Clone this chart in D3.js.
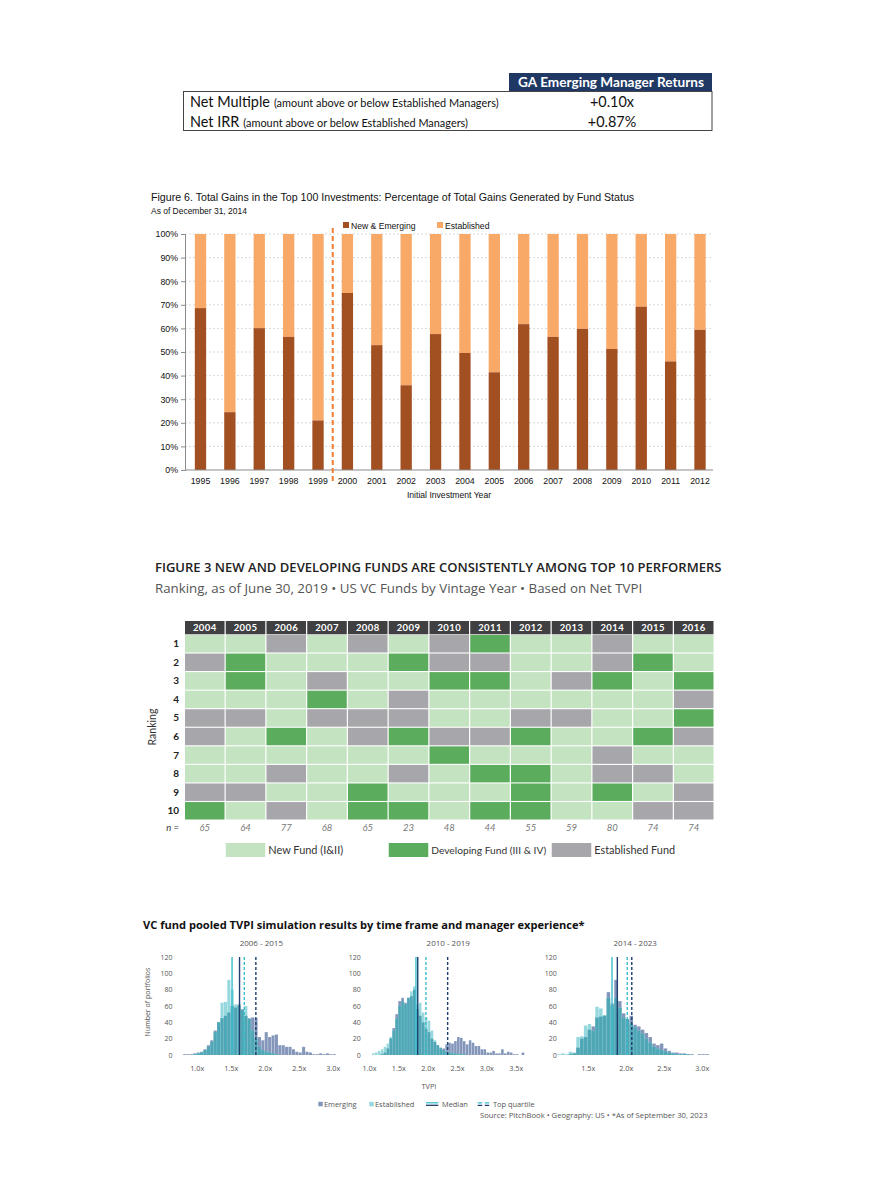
<!DOCTYPE html>
<html>
<head>
<meta charset="utf-8">
<script src="https://cdn.jsdelivr.net/npm/d3@7"></script>
<style>
body { margin: 0; background: #fff; }
</style>
</head>
<body>
<div id="container"></div>
<script>
// ---------- data ----------
// top table
var tableHeader = "GA Emerging Manager Returns";
var tableRows = ["Net Multiple", "Net IRR"];
var tableNotes = ["(amount above or below Established Managers)", "(amount above or below Established Managers)"];
var tableValues = ["+0.10x", "+0.87%"];

// figure 6
var years6 = ["1995","1996","1997","1998","1999","2000","2001","2002","2003","2004","2005","2006","2007","2008","2009","2010","2011","2012"];
var newEmerging = [68.6, 24.5, 60.1, 56.4, 21, 75, 52.9, 35.9, 57.6, 49.6, 41.4, 61.8, 56.4, 59.8, 51.3, 69.2, 46, 59.4];
var pctTicks = [0, 10, 20, 30, 40, 50, 60, 70, 80, 90, 100];
var legend6 = ["New & Emerging", "Established"];

// figure 3
var vintages = ["2004","2005","2006","2007","2008","2009","2010","2011","2012","2013","2014","2015","2016"];
var rankings = [1, 2, 3, 4, 5, 6, 7, 8, 9, 10];
var nCounts = [65, 64, 77, 68, 65, 23, 48, 44, 55, 59, 80, 74, 74];
// N = new fund, D = developing fund, E = established fund (one string per ranking row)
var rankGrid = [
  "NNENENEDNNENN",
  "EDNNNDEENNEDN",
  "NDNENNDDNEDND",
  "NNNDNENNNNNNE",
  "EENEEENNEENND",
  "ENDNEDEEDNNDE",
  "NNNNNNDNNNENN",
  "NNENNENDDNEEN",
  "EENNDNNNDNDNE",
  "DNENDDNDDNNEE"
];
var legend3 = ["New Fund (I&II)", "Developing Fund (III & IV)", "Established Fund"];

// TVPI histograms
var panelTitles = ["2006 - 2015", "2010 - 2019", "2014 - 2023"];
var binStarts = [0.80, 1.05, 1.10];
var emerging1 = [1,1,1,2,3,4,7,12,18,30,40,45,48,52,60,58,62,56,48,45,46,45,22,18,28,22,24,25,12,12,10,10,7,4,3,10,4,3,1,1,2,1,2,1,1];
var established1 = [0,0,0,1,2,3,6,10,16,28,40,64,65,92,80,62,60,55,60,44,30,20,10,6,4,3,2,1,0,0,0,0,0,0,0,0,0,0,0,0,0,0,0,0,0];
var emerging2 = [0,0,0,1,3,8,20,33,50,66,70,64,70,72,80,56,48,40,32,28,20,16,12,9,8,13,15,14,17,22,21,17,13,18,15,11,11,7,7,3,3,5,2,2,7,2,4,3,1,1,0,3];
var established2 = [2,3,5,7,10,14,22,30,45,60,66,62,70,78,84,62,64,52,46,42,30,18,12,8,6,4,3,2,2,1,1,1,0,0,0,0,0,0,0,0,0,0,0,0,0,0,0,0,0,0,0,0];
var emerging3 = [0,0,0,1,2,9,20,22,31,35,46,47,48,77,63,92,66,51,44,48,37,35,31,27,22,14,12,14,8,5,3,3,2,2,1,1,0,1,1,1,0];
var established3 = [1,2,1,4,3,22,23,36,38,30,59,57,49,70,60,70,58,46,44,39,34,30,26,20,15,10,8,6,4,3,2,1,1,1,1,0,0,0,0,0,0];
var emergingAll = [emerging1, emerging2, emerging3];
var establishedAll = [established1, established2, established3];
var medians = [[1.52, 1.63], [1.80, 1.83], [1.82, 1.89]];      // [established, emerging]
var topQuartiles = [[1.70, 1.87], [1.97, 2.34], [2.02, 2.08]];  // [established, emerging]
var xTicksAll = [[1.0, 1.5, 2.0, 2.5, 3.0], [1.0, 1.5, 2.0, 2.5, 3.0, 3.5], [1.5, 2.0, 2.5, 3.0]];
var xDomains = [[0.8, 3.1], [1.0, 3.7], [1.1, 3.15]];
var countTicks = [0, 20, 40, 60, 80, 100, 120];
var legendHist = ["Emerging", "Established", "Median", "Top quartile"];
var sourceText = "Source: PitchBook \u2022 Geography: US \u2022 *As of September 30, 2023";

// ---------- setup ----------
var W = 878, H = 1200;
var svg = d3.select("#container").append("svg")
  .attr("width", W).attr("height", H);
svg.append("rect").attr("width", W).attr("height", H).attr("fill", "#fff");

// scale a text's font-size so that it spans a given width
function fit(sel, w) {
  var len = sel.node().getComputedTextLength();
  var fs = parseFloat(sel.attr("font-size"));
  if (len > 0) sel.attr("font-size", fs * w / len);
  return sel;
}

// ---------- top table ----------
var tb = svg.append("g").attr("font-family", "Lato, 'Open Sans', sans-serif");
tb.append("rect").attr("x", 509).attr("y", 73).attr("width", 203).attr("height", 18).attr("fill", "#1f3864");
fit(tb.append("text").attr("x", 611).attr("y", 86.8).attr("text-anchor", "middle")
  .attr("fill", "#fff").attr("font-weight", "bold").attr("font-size", 12).text(tableHeader), 186);
tb.append("rect").attr("x", 183.5).attr("y", 91.5).attr("width", 528.5).attr("height", 39)
  .attr("fill", "none").attr("stroke", "#444").attr("stroke-width", 1);

var rowFs = 13, noteFs = 9;
tableRows.forEach(function(r, i) {
  var y = 107 + i * 19.5;
  var t1 = tb.append("text").attr("x", 190).attr("y", y).attr("font-size", rowFs).attr("fill", "#111").text(r);
  if (i == 0) { fit(t1, 80); rowFs = parseFloat(t1.attr("font-size")); }
  else t1.attr("font-size", rowFs);
  var bx = 190 + t1.node().getComputedTextLength() + 4;
  var t2 = tb.append("text").attr("x", bx).attr("y", y).attr("font-size", noteFs).attr("fill", "#111").text(tableNotes[i]);
  if (i == 0) { fit(t2, 225); noteFs = parseFloat(t2.attr("font-size")); }
  else t2.attr("font-size", noteFs);
  tb.append("text").attr("x", 612).attr("y", y).attr("text-anchor", "middle")
    .attr("font-size", rowFs).attr("fill", "#111").text(tableValues[i]);
});

// ---------- figure 6 ----------
var f6 = svg.append("g").attr("font-family", "'Liberation Sans', Arial, sans-serif").attr("fill", "#111");
fit(f6.append("text").attr("x", 151).attr("y", 201).attr("font-size", 10.5)
  .text("Figure 6. Total Gains in the Top 100 Investments: Percentage of Total Gains Generated by Fund Status"), 484);
fit(f6.append("text").attr("x", 151).attr("y", 213.5).attr("font-size", 8.3).text("As of December 31, 2014"), 96);

var c6Dark = "#a24f22", c6Light = "#f8a968";
var x6 = d3.scaleBand().domain(years6).range([185.8, 714.7]).paddingInner(0.615).paddingOuter(0.3075);
var y6 = d3.scaleLinear().domain([0, 100]).range([470, 234]);

// gridlines
f6.selectAll("line.grid").data(pctTicks.filter(function(d) { return d > 0; }))
  .enter().append("line")
  .attr("x1", 185).attr("x2", 713)
  .attr("y1", function(d) { return y6(d); }).attr("y2", function(d) { return y6(d); })
  .attr("stroke", "#cfcfcf").attr("stroke-width", 0.8).attr("stroke-dasharray", "2,2");

// stacked bars
f6.selectAll("rect.est").data(years6).enter().append("rect")
  .attr("x", function(d) { return x6(d); }).attr("width", x6.bandwidth())
  .attr("y", y6(100))
  .attr("height", function(d, i) { return y6(newEmerging[i]) - y6(100); })
  .attr("fill", c6Light);
f6.selectAll("rect.new").data(years6).enter().append("rect")
  .attr("x", function(d) { return x6(d); }).attr("width", x6.bandwidth())
  .attr("y", function(d, i) { return y6(newEmerging[i]); })
  .attr("height", function(d, i) { return y6(0) - y6(newEmerging[i]); })
  .attr("fill", c6Dark);

// axes
var ay6 = f6.append("g").attr("transform", "translate(185,0)")
  .call(d3.axisLeft(y6).tickValues(pctTicks).tickFormat(function(d) { return d + "%"; }).tickSize(4).tickPadding(3));
ay6.selectAll("text").attr("font-size", 8.8).attr("fill", "#111").attr("font-family", "'Liberation Sans', Arial, sans-serif");
ay6.selectAll("line,path").attr("stroke", "#8c8c8c");
var ax6 = f6.append("g").attr("transform", "translate(0,470)")
  .call(d3.axisBottom(x6).tickSize(0).tickPadding(8));
ax6.select("path").attr("d", "M185,0H713").attr("stroke", "#8c8c8c");
ax6.selectAll("text").attr("font-size", 8.8).attr("fill", "#111").attr("font-family", "'Liberation Sans', Arial, sans-serif");
f6.append("text").attr("x", 449).attr("y", 498).attr("text-anchor", "middle").attr("font-size", 8.6).text("Initial Investment Year");

// dashed separator between 1999 and 2000
var sepX = (x6("1999") + x6.bandwidth() + x6("2000")) / 2;
f6.append("line").attr("x1", sepX).attr("x2", sepX).attr("y1", 228).attr("y2", 483)
  .attr("stroke", "#ee7d31").attr("stroke-width", 2).attr("stroke-dasharray", "5,3");

// legend
[[343, c6Dark], [437, c6Light]].forEach(function(p, i) {
  f6.append("rect").attr("x", p[0]).attr("y", 222).attr("width", 6).attr("height", 6).attr("fill", p[1]);
  f6.append("text").attr("x", p[0] + 8).attr("y", 228.5).attr("font-size", 8.6).text(legend6[i]);
});

// ---------- figure 3 ----------
var f3 = svg.append("g").attr("font-family", "Lato, 'Open Sans', sans-serif");
fit(f3.append("text").attr("x", 155).attr("y", 572).attr("font-size", 11.5).attr("font-weight", 600)
  .attr("font-family", "'Open Sans', sans-serif").attr("fill", "#222")
  .text("FIGURE 3 NEW AND DEVELOPING FUNDS ARE CONSISTENTLY AMONG TOP 10 PERFORMERS"), 567);
fit(f3.append("text").attr("x", 155).attr("y", 592.5).attr("font-size", 11.5)
  .attr("font-family", "'Open Sans', sans-serif").attr("fill", "#555")
  .text("Ranking, as of June 30, 2019 \u2022 US VC Funds by Vintage Year \u2022 Based on Net TVPI"), 488);

var cellColor = { N: "#c3e3c1", D: "#5cac5e", E: "#a7a6ab" };
var x3 = d3.scaleBand().domain(vintages).range([185, 713.5]).paddingInner(0.03);
var y3 = d3.scaleBand().domain(rankings).range([635, 819.5]).paddingInner(0.06);

// header
f3.selectAll("rect.hdr").data(vintages).enter().append("rect")
  .attr("x", function(d) { return x3(d); }).attr("width", x3.bandwidth())
  .attr("y", 621).attr("height", 13.3).attr("fill", "#404042");
f3.selectAll("text.hdr").data(vintages).enter().append("text")
  .attr("x", function(d) { return x3(d) + x3.bandwidth() / 2; }).attr("y", 631.3)
  .attr("text-anchor", "middle").attr("font-size", 9.5).attr("font-weight", "bold")
  .attr("letter-spacing", 0.4).attr("fill", "#fff").text(function(d) { return d; });

// cells
rankGrid.forEach(function(row, r) {
  f3.selectAll("rect.r" + r).data(row.split("")).enter().append("rect")
    .attr("x", function(d, c) { return x3(vintages[c]); }).attr("width", x3.bandwidth())
    .attr("y", y3(rankings[r])).attr("height", y3.bandwidth())
    .attr("fill", function(d) { return cellColor[d]; });
});

// row labels
f3.selectAll("text.rank").data(rankings).enter().append("text")
  .attr("x", 179).attr("y", function(d) { return y3(d) + y3.bandwidth() / 2 + 3.5; })
  .attr("text-anchor", "end").attr("font-size", 10).attr("font-weight", "bold").attr("fill", "#222")
  .text(function(d) { return d; });
f3.append("text").attr("transform", "translate(156,727) rotate(-90)").attr("text-anchor", "middle")
  .attr("font-size", 10.5).attr("fill", "#333").text("Ranking");

// n row
f3.append("text").attr("x", 179).attr("y", 831).attr("text-anchor", "end").attr("font-size", 9.5)
  .attr("font-style", "italic").attr("fill", "#333").text("n =");
f3.selectAll("text.n").data(nCounts).enter().append("text")
  .attr("x", function(d, i) { return x3(vintages[i]) + x3.bandwidth() / 2; }).attr("y", 831)
  .attr("text-anchor", "middle").attr("font-size", 9.5).attr("font-style", "italic").attr("fill", "#777")
  .text(function(d) { return d; });

// legend
var legCols = [1, 5, 9], legKeys = ["N", "D", "E"], legW = [75, 115, 81];
legCols.forEach(function(c, i) {
  var lx = x3(vintages[c]);
  f3.append("rect").attr("x", lx).attr("y", 843).attr("width", x3.bandwidth()).attr("height", 14)
    .attr("fill", cellColor[legKeys[i]]);
  fit(f3.append("text").attr("x", lx + x3.bandwidth() + 3).attr("y", 854).attr("font-size", 10.5)
    .attr("fill", "#333").text(legend3[i]), legW[i]);
});

// ---------- TVPI histograms ----------
var fh = svg.append("g").attr("font-family", "'Open Sans', sans-serif");
fit(fh.append("text").attr("x", 143).attr("y", 929).attr("font-size", 10.5).attr("font-weight", "bold")
  .attr("fill", "#111")
  .text("VC fund pooled TVPI simulation results by time frame and manager experience*"), 442);

var emColor = "#8497bb", estColor = "#96d8de", bothColor = "#4fa7b6";
var navy = "#1e3f6f", cyan = "#3bbecb";
var panelRanges = [[183.1, 339.5], [369, 527.5], [557.3, 713.1]];
var yLabelX = [172.5, 360.8, 556.8];
var yh = d3.scaleLinear().domain([0, 120]).range([1055, 957]);
var binW = 0.05;

panelTitles.forEach(function(title, p) {
  var g = fh.append("g");
  var xh = d3.scaleLinear().domain(xDomains[p]).range(panelRanges[p]);
  var em = emergingAll[p], est = establishedAll[p];
  var bins = em.map(function(d, i) { return binStarts[p] + i * binW; });
  var bw = xh(binW) - xh(0) - 0.35;

  g.append("text").attr("x", (panelRanges[p][0] + panelRanges[p][1]) / 2).attr("y", 946)
    .attr("text-anchor", "middle").attr("font-size", 8).attr("fill", "#555").text(title);

  g.selectAll("rect.em").data(bins).enter().append("rect")
    .attr("x", function(d) { return xh(d); }).attr("width", bw)
    .attr("y", function(d, i) { return yh(em[i]); })
    .attr("height", function(d, i) { return yh(0) - yh(em[i]); })
    .attr("fill", emColor);
  g.selectAll("rect.est").data(bins).enter().append("rect")
    .attr("x", function(d) { return xh(d); }).attr("width", bw)
    .attr("y", function(d, i) { return yh(est[i]); })
    .attr("height", function(d, i) { return yh(0) - yh(est[i]); })
    .attr("fill", estColor);
  g.selectAll("rect.both").data(bins).enter().append("rect")
    .attr("x", function(d) { return xh(d); }).attr("width", bw)
    .attr("y", function(d, i) { return yh(Math.min(em[i], est[i])); })
    .attr("height", function(d, i) { return yh(0) - yh(Math.min(em[i], est[i])); })
    .attr("fill", bothColor);

  // median and top quartile lines
  var lines = [
    { v: medians[p][0], c: cyan, dash: null },
    { v: medians[p][1], c: navy, dash: null },
    { v: topQuartiles[p][0], c: cyan, dash: "3,2" },
    { v: topQuartiles[p][1], c: navy, dash: "3,2" }
  ];
  g.selectAll("line.stat").data(lines).enter().append("line")
    .attr("x1", function(d) { return xh(d.v); }).attr("x2", function(d) { return xh(d.v); })
    .attr("y1", yh(0)).attr("y2", yh(120))
    .attr("stroke", function(d) { return d.c; }).attr("stroke-width", 1.4)
    .attr("stroke-dasharray", function(d) { return d.dash; });

  // y axis labels
  var ay = g.append("g").attr("transform", "translate(" + yLabelX[p] + ",0)")
    .call(d3.axisLeft(yh).tickValues(countTicks).tickSize(0).tickPadding(0));
  ay.select("path").remove();
  ay.selectAll("text").attr("font-size", 7).attr("fill", "#555").attr("font-family", "'Open Sans', sans-serif");

  // x axis labels
  var ax = g.append("g").attr("transform", "translate(0,1062)")
    .call(d3.axisBottom(xh).tickValues(xTicksAll[p]).tickSize(0).tickPadding(4)
      .tickFormat(function(d) { return d3.format(".1f")(d) + "x"; }));
  ax.select("path").remove();
  ax.selectAll("text").attr("font-size", 7.3).attr("fill", "#555").attr("font-family", "'Open Sans', sans-serif");
});

fh.append("text").attr("transform", "translate(150,1002) rotate(-90)").attr("text-anchor", "middle")
  .attr("font-size", 7).attr("fill", "#555").text("Number of portfolios");
fh.append("text").attr("x", 429).attr("y", 1089).attr("text-anchor", "middle")
  .attr("font-size", 7.3).attr("fill", "#555").text("TVPI");

// legend
var lg = fh.append("g").attr("fill", "#555").attr("font-size", 7.4);
lg.append("rect").attr("x", 318.3).attr("y", 1101.8).attr("width", 4.5).attr("height", 4.5).attr("fill", emColor);
lg.append("text").attr("x", 324).attr("y", 1107).text(legendHist[0]);
lg.append("rect").attr("x", 369.3).attr("y", 1101.8).attr("width", 4.5).attr("height", 4.5).attr("fill", estColor);
lg.append("text").attr("x", 375).attr("y", 1107).text(legendHist[1]);
lg.append("line").attr("x1", 426).attr("x2", 438.3).attr("y1", 1102.8).attr("y2", 1102.8).attr("stroke", cyan).attr("stroke-width", 1.3);
lg.append("line").attr("x1", 426).attr("x2", 438.3).attr("y1", 1105.3).attr("y2", 1105.3).attr("stroke", navy).attr("stroke-width", 1.3);
lg.append("text").attr("x", 442).attr("y", 1107).text(legendHist[2]);
lg.append("line").attr("x1", 477.7).attr("x2", 489.5).attr("y1", 1102.8).attr("y2", 1102.8).attr("stroke", cyan).attr("stroke-width", 1.3).attr("stroke-dasharray", "4.5,2.5");
lg.append("line").attr("x1", 477.7).attr("x2", 489.5).attr("y1", 1105.3).attr("y2", 1105.3).attr("stroke", navy).attr("stroke-width", 1.3).attr("stroke-dasharray", "4.5,2.5");
lg.append("text").attr("x", 493).attr("y", 1107).text(legendHist[3]);

fit(fh.append("text").attr("x", 480).attr("y", 1117.5).attr("font-size", 6.5).attr("fill", "#555").text(sourceText), 228);
</script>
</body>
</html>
